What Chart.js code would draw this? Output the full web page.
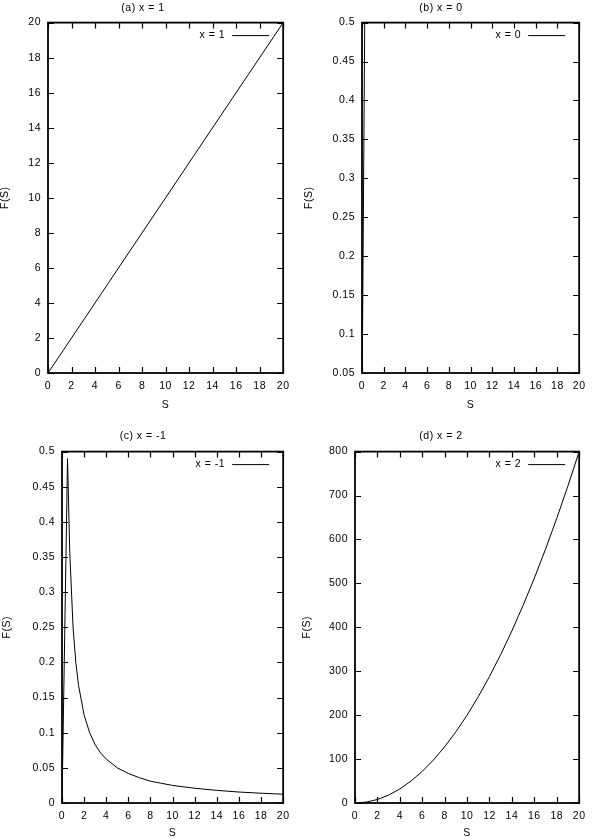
<!DOCTYPE html>
<html>
<head>
<meta charset="utf-8">
<script src="https://cdn.jsdelivr.net/npm/chart.js@4.4.0/dist/chart.umd.min.js"></script>
<style>
  body { margin: 0; background: #fff; }
  .wrap { position: relative; width: 592px; height: 838px; }
  canvas { position: absolute; }
</style>
</head>
<body>
<div class="wrap">
  <canvas id="chartA" width="296" height="419" style="left:0;top:0"></canvas>
  <canvas id="chartB" width="296" height="419" style="left:296px;top:0"></canvas>
  <canvas id="chartC" width="296" height="419" style="left:0;top:419px"></canvas>
  <canvas id="chartD" width="296" height="419" style="left:296px;top:419px"></canvas>
</div>
<script>
// x ticks shared by all panels
const sTicks = [0, 2, 4, 6, 8, 10, 12, 14, 16, 18, 20];

// (a) x = 1
const sA = [0, 20];
const fA = [0, 20];
const yTicksA = [0, 2, 4, 6, 8, 10, 12, 14, 16, 18, 20];

// (b) x = 0
const sB = [0, 0.25];
const fB = [0, 0.5];
const yTicksB = [0.05, 0.1, 0.15, 0.2, 0.25, 0.3, 0.35, 0.4, 0.45, 0.5];

// (c) x = -1
const sC = [0, 0.5, 0.7, 1, 1.25, 1.5, 2, 2.5, 3, 3.5, 4, 5, 6, 7, 8, 9, 10, 12, 14, 16, 18, 20];
const fC = [0, 0.49, 0.357, 0.25, 0.2, 0.167, 0.125, 0.1, 0.083, 0.071, 0.0625, 0.05, 0.042, 0.036, 0.031, 0.028, 0.025, 0.021, 0.018, 0.0156, 0.0139, 0.0125];
const yTicksC = [0, 0.05, 0.1, 0.15, 0.2, 0.25, 0.3, 0.35, 0.4, 0.45, 0.5];

// (d) x = 2
const sD = [0, 1, 2, 3, 4, 5, 6, 7, 8, 9, 10, 11, 12, 13, 14, 15, 16, 17, 18, 19, 20];
const fD = [0, 2, 8, 18, 32, 50, 72, 98, 128, 162, 200, 242, 288, 338, 392, 450, 512, 578, 648, 722, 800];
const yTicksD = [0, 100, 200, 300, 400, 500, 600, 700, 800];

const FONT = "'Liberation Sans', Arial, sans-serif";
const FSIZE = 10.5;

// gd-rendered text in the original has wider glyph spacing
const spacing = {
  id: "spacing",
  beforeDraw(chart) {
    chart.ctx.letterSpacing = "0.5px";
  },
};

// gnuplot style: box border, ticks pointing inward on all four sides, key inside top right
const gnuplotFrame = {
  id: "gnuplotFrame",
  afterDatasetsDraw(chart) {
    const ctx = chart.ctx;
    const a = chart.chartArea;
    const tl = 6;
    ctx.save();
    ctx.strokeStyle = "#000";
    ctx.lineWidth = 1.2;
    ctx.beginPath();
    chart.scales.x.ticks.forEach((t) => {
      const px = Math.round(chart.scales.x.getPixelForValue(t.value)) + 0.5;
      ctx.moveTo(px, a.bottom);
      ctx.lineTo(px, a.bottom - tl);
      ctx.moveTo(px, a.top);
      ctx.lineTo(px, a.top + tl);
    });
    chart.scales.y.ticks.forEach((t) => {
      const py = Math.round(chart.scales.y.getPixelForValue(t.value)) + 0.5;
      ctx.moveTo(a.left, py);
      ctx.lineTo(a.left + tl, py);
      ctx.moveTo(a.right, py);
      ctx.lineTo(a.right - tl, py);
    });
    ctx.stroke();
    ctx.lineWidth = 1.8;
    ctx.strokeRect(a.left, a.top, a.right - a.left, a.bottom - a.top);

    // key
    const label = chart.data.datasets[0].label;
    const ky = a.top + 12.5;
    ctx.font = FSIZE + "px " + FONT;
    ctx.fillStyle = "#000";
    ctx.textAlign = "right";
    ctx.textBaseline = "middle";
    ctx.fillText(label, a.right - 58, ky);
    ctx.lineWidth = 1;
    ctx.beginPath();
    ctx.moveTo(a.right - 51, ky + 0.5);
    ctx.lineTo(a.right - 14, ky + 0.5);
    ctx.stroke();
    ctx.restore();
  },
};

function makePanel(id, title, key, sVals, fVals, yTicks, box) {
  const yMin = yTicks[0];
  const yMax = yTicks[yTicks.length - 1];
  return new Chart(document.getElementById(id), {
    type: "scatter",
    data: {
      datasets: [
        {
          label: key,
          data: sVals.map((s, i) => ({ x: s, y: fVals[i] })),
          showLine: true,
          borderColor: "#000",
          borderWidth: 1,
          pointRadius: 0,
          tension: 0,
        },
      ],
    },
    options: {
      responsive: false,
      animation: false,
      layout: { padding: { top: 0, right: box.padRight, bottom: 0, left: 0 } },
      plugins: {
        legend: { display: false },
        tooltip: { enabled: false },
        title: {
          display: true,
          text: title,
          color: "#000",
          font: { family: FONT, size: FSIZE, weight: "normal" },
          padding: { top: box.titleTop, bottom: box.titleBottom },
        },
      },
      scales: {
        x: {
          type: "linear",
          min: 0,
          max: 20,
          afterBuildTicks: (s) => { s.ticks = sTicks.map((v) => ({ value: v })); },
          afterFit: (s) => { s.height = box.xHeight; },
          grid: { display: false, drawTicks: false },
          border: { display: false },
          ticks: {
            color: "#000",
            padding: 7,
            maxRotation: 0,
            font: { family: FONT, size: FSIZE },
            callback: (v) => String(v),
          },
          title: {
            display: true,
            text: "S",
            color: "#000",
            font: { family: FONT, size: FSIZE },
            padding: { top: 0, bottom: box.sPad },
          },
        },
        y: {
          type: "linear",
          min: yMin,
          max: yMax,
          afterBuildTicks: (s) => { s.ticks = yTicks.map((v) => ({ value: v })); },
          afterFit: (s) => { s.width = box.yWidth; },
          grid: { display: false, drawTicks: false },
          border: { display: false },
          ticks: {
            color: "#000",
            padding: 7,
            font: { family: FONT, size: FSIZE },
            callback: (v) => String(v),
          },
          title: {
            display: true,
            text: "F(S)",
            color: "#000",
            font: { family: FONT, size: FSIZE },
            padding: { top: box.fPad, bottom: 0 },
          },
        },
      },
    },
    plugins: [spacing, gnuplotFrame],
  });
}

makePanel("chartA", "(a) x = 1", "x = 1", sA, fA, yTicksA,
  { padRight: 10, yWidth: 48, xHeight: 46, titleTop: 2, titleBottom: 8, sPad: 8, fPad: -1 });
makePanel("chartB", "(b) x = 0", "x = 0", sB, fB, yTicksB,
  { padRight: 6, yWidth: 66, xHeight: 46, titleTop: 2, titleBottom: 8, sPad: 8, fPad: 7 });
makePanel("chartC", "(c) x = -1", "x = -1", sC, fC, yTicksC,
  { padRight: 10, yWidth: 62, xHeight: 35, titleTop: 11, titleBottom: 9, sPad: -1, fPad: 1 });
makePanel("chartD", "(d) x = 2", "x = 2", sD, fD, yTicksD,
  { padRight: 6, yWidth: 59, xHeight: 35, titleTop: 11, titleBottom: 9, sPad: -1, fPad: 5 });
</script>
</body>
</html>
